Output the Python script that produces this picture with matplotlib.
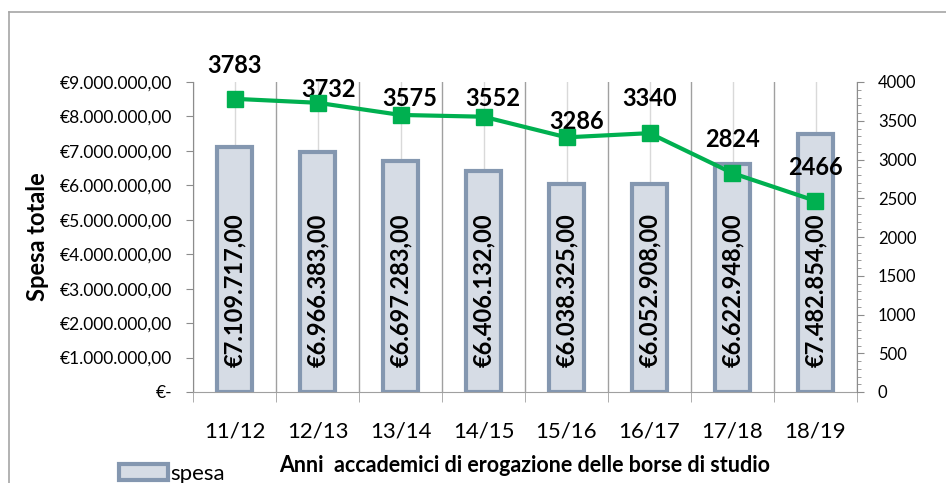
import matplotlib
matplotlib.use("Agg")
import matplotlib.pyplot as plt
from matplotlib.ticker import FuncFormatter, MultipleLocator
from matplotlib.lines import Line2D
import numpy as np

years = ['11/12', '12/13', '13/14', '14/15', '15/16', '16/17', '17/18', '18/19']
spesa = [7109717, 6966383, 6697283, 6406132, 6038325, 6052908, 6622948, 7482854]
borse = [3783, 3732, 3575, 3552, 3286, 3340, 2824, 2466]

# where each count label sits relative to its marker (points)
label_offsets = [(0, 24), (8, 9.5), (6.5, 11.5), (6.5, 13), (7, 11.5),
                 (0, 25), (0, 24), (0, 24)]

BAR_FILL = '#D6DCE5'
BAR_EDGE = '#8497B0'
GREEN = '#00B050'

plt.rcParams['font.family'] = ['Lato', 'DejaVu Sans']


def euro(v, pos=None):
    if v == 0:
        return '€-'
    s = f'{v:,.2f}'
    s = s.replace(',', 'X').replace('.', ',').replace('X', '.')
    return '€' + s


fig = plt.figure(figsize=(9.46, 4.83), dpi=100)
ax = fig.add_axes([193 / 946, 91 / 483, 664 / 946, 310 / 483])
ax2 = ax.twinx()

x = np.arange(len(years))

# bars
ax.bar(x, spesa, width=0.42, color=BAR_FILL, edgecolor=BAR_EDGE,
       linewidth=3, zorder=3, label='spesa')
for xi, v in zip(x, spesa):
    ax.text(xi, 2.95e6, euro(v), rotation=90, ha='center', va='center',
            fontsize=17, fontweight='bold', zorder=5)

ax.set_ylim(0, 9e6)
ax.set_xlim(-0.5, len(years) - 0.5)
ax.yaxis.set_major_locator(MultipleLocator(1e6))
ax.yaxis.set_major_formatter(FuncFormatter(euro))
ax.tick_params(axis='y', labelsize=12.5, length=5, color='#8C8C8C', pad=10)

# category ticks / grid
ax.set_xticks(x)
ax.set_xticklabels(years, fontsize=16)
ax.set_xticks(np.arange(-0.5, len(years)), minor=True)
ax.tick_params(axis='x', which='major', length=0, pad=21)
ax.tick_params(axis='x', which='minor', length=7, color='#A0A0A0')
ax.grid(True, axis='x', which='minor', color='#A0A0A0', linewidth=1, zorder=1)
ax.grid(True, axis='x', which='major', color='#D9D9D9', linewidth=1, zorder=1)

for sp in ['top', 'right']:
    ax.spines[sp].set_visible(False)
ax.spines['left'].set_color('#8C8C8C')
ax.spines['bottom'].set_color('#A0A0A0')

ax.set_ylabel('Spesa totale', fontsize=17, fontweight='bold', labelpad=8)
ax.set_xlabel('Anni  accademici di erogazione delle borse di studio',
              fontsize=15.5, fontweight='bold', labelpad=10)

# line on secondary axis
ax2.plot(x, borse, color=GREEN, linewidth=3, marker='s', markersize=11,
         zorder=6)
for xi, v, off in zip(x, borse, label_offsets):
    ax2.annotate(str(v), (xi, v), xytext=off, textcoords='offset points',
                 ha='center', va='center', fontsize=17, fontweight='bold')
ax2.set_ylim(0, 4000)
ax2.yaxis.set_major_locator(MultipleLocator(500))
ax2.yaxis.set_minor_locator(MultipleLocator(100))
ax2.tick_params(axis='y', which='major', labelsize=12, length=5,
                color='#8C8C8C', pad=10)
ax2.tick_params(axis='y', which='minor', length=3, color='#8C8C8C')
for sp in ['top', 'left', 'bottom']:
    ax2.spines[sp].set_visible(False)
ax2.spines['right'].set_color('#8C8C8C')

# legend
fig.legend(loc='lower left', bbox_to_anchor=(110 / 946, -0.02),
           frameon=False, fontsize=16, handlelength=2.2, handleheight=0.75,
           handletextpad=0.1, borderaxespad=0)

# outer chart border (left and top)
fig.add_artist(Line2D([9 / 946, 9 / 946], [0, 1 - 12 / 483],
                      transform=fig.transFigure, color='#A6A6A6', linewidth=1.2))
fig.add_artist(Line2D([9 / 946, 1], [1 - 12 / 483, 1 - 12 / 483],
                      transform=fig.transFigure, color='#A6A6A6', linewidth=1.2))

fig.savefig('out.png', dpi=100)
